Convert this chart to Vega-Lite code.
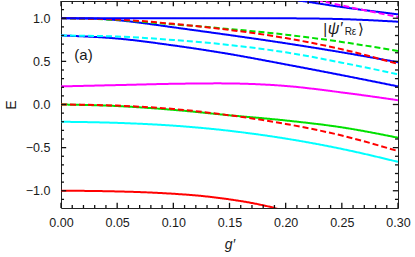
{
  "$schema": "https://vega.github.io/schema/vega-lite/v6.json",
  "width": 337,
  "height": 207,
  "autosize": {"type": "none"},
  "padding": {"left": 61, "top": 1, "right": 17, "bottom": 49},
  "background": "white",
  "config": {
    "view": {"stroke": "#222222", "strokeWidth": 1},
    "font": "Liberation Sans",
    "axis": {"grid": false, "domain": false, "ticks": false, "tickSize": 0, "labelFlush": false, "labelOverlap": false, "labelColor": "#1a1a1a", "titleColor": "#1a1a1a", "labelFont": "Liberation Sans", "titleFont": "Liberation Sans", "labelFontSize": 12.5, "titleFontSize": 14, "titleFontWeight": "normal"}
  },
  "datasets": {
    "curves": [
      {"s": "redS", "g": 0, "E": -1.0}, {"s": "redS", "g": 0.025, "E": -1.002}, {"s": "redS", "g": 0.05, "E": -1.008}, {"s": "redS", "g": 0.075, "E": -1.018}, {"s": "redS", "g": 0.1, "E": -1.035}, {"s": "redS", "g": 0.125, "E": -1.06}, {"s": "redS", "g": 0.15, "E": -1.1}, {"s": "redS", "g": 0.175, "E": -1.155}, {"s": "redS", "g": 0.19, "E": -1.2}, {"s": "redS", "g": 0.2, "E": -1.24},
      {"s": "cyanS", "g": 0, "E": -0.2}, {"s": "cyanS", "g": 0.05, "E": -0.213}, {"s": "cyanS", "g": 0.1, "E": -0.245}, {"s": "cyanS", "g": 0.15, "E": -0.305}, {"s": "cyanS", "g": 0.2, "E": -0.395}, {"s": "cyanS", "g": 0.25, "E": -0.515}, {"s": "cyanS", "g": 0.3, "E": -0.665},
      {"s": "greenS", "g": 0, "E": 0}, {"s": "greenS", "g": 0.05, "E": -0.018}, {"s": "greenS", "g": 0.1, "E": -0.062}, {"s": "greenS", "g": 0.15, "E": -0.125}, {"s": "greenS", "g": 0.2, "E": -0.185}, {"s": "greenS", "g": 0.25, "E": -0.265}, {"s": "greenS", "g": 0.3, "E": -0.385},
      {"s": "redD0", "g": 0, "E": 0}, {"s": "redD0", "g": 0.05, "E": -0.013}, {"s": "redD0", "g": 0.1, "E": -0.052}, {"s": "redD0", "g": 0.15, "E": -0.125}, {"s": "redD0", "g": 0.2, "E": -0.225}, {"s": "redD0", "g": 0.25, "E": -0.36}, {"s": "redD0", "g": 0.3, "E": -0.54},
      {"s": "magS", "g": 0, "E": 0.21}, {"s": "magS", "g": 0.05, "E": 0.225}, {"s": "magS", "g": 0.1, "E": 0.24}, {"s": "magS", "g": 0.14, "E": 0.245}, {"s": "magS", "g": 0.18, "E": 0.232}, {"s": "magS", "g": 0.2, "E": 0.215}, {"s": "magS", "g": 0.25, "E": 0.14}, {"s": "magS", "g": 0.3, "E": 0.05},
      {"s": "blueL", "g": 0, "E": 0.8}, {"s": "blueL", "g": 0.05, "E": 0.765}, {"s": "blueL", "g": 0.1, "E": 0.685}, {"s": "blueL", "g": 0.15, "E": 0.585}, {"s": "blueL", "g": 0.2, "E": 0.465}, {"s": "blueL", "g": 0.25, "E": 0.34}, {"s": "blueL", "g": 0.3, "E": 0.21},
      {"s": "cyanD", "g": 0, "E": 0.8}, {"s": "cyanD", "g": 0.05, "E": 0.788}, {"s": "cyanD", "g": 0.1, "E": 0.748}, {"s": "cyanD", "g": 0.15, "E": 0.69}, {"s": "cyanD", "g": 0.2, "E": 0.605}, {"s": "cyanD", "g": 0.25, "E": 0.485}, {"s": "cyanD", "g": 0.3, "E": 0.35},
      {"s": "blueU", "g": 0, "E": 1.0}, {"s": "blueU", "g": 0.03, "E": 0.995}, {"s": "blueU", "g": 0.05, "E": 0.978}, {"s": "blueU", "g": 0.075, "E": 0.94}, {"s": "blueU", "g": 0.1, "E": 0.895}, {"s": "blueU", "g": 0.15, "E": 0.805}, {"s": "blueU", "g": 0.2, "E": 0.71}, {"s": "blueU", "g": 0.25, "E": 0.605}, {"s": "blueU", "g": 0.3, "E": 0.49},
      {"s": "greenD", "g": 0, "E": 1.0}, {"s": "greenD", "g": 0.05, "E": 0.98}, {"s": "greenD", "g": 0.1, "E": 0.93}, {"s": "greenD", "g": 0.15, "E": 0.875}, {"s": "greenD", "g": 0.2, "E": 0.81}, {"s": "greenD", "g": 0.25, "E": 0.725}, {"s": "greenD", "g": 0.3, "E": 0.62},
      {"s": "redD1", "g": 0, "E": 1.0}, {"s": "redD1", "g": 0.05, "E": 0.985}, {"s": "redD1", "g": 0.1, "E": 0.935}, {"s": "redD1", "g": 0.15, "E": 0.865}, {"s": "redD1", "g": 0.2, "E": 0.77}, {"s": "redD1", "g": 0.25, "E": 0.64}, {"s": "redD1", "g": 0.3, "E": 0.47},
      {"s": "blueF", "g": 0, "E": 1.0}, {"s": "blueF", "g": 0.1, "E": 1.0}, {"s": "blueF", "g": 0.2, "E": 0.999}, {"s": "blueF", "g": 0.25, "E": 0.99}, {"s": "blueF", "g": 0.3, "E": 0.96},
      {"s": "blueT", "g": 0.2, "E": 1.23}, {"s": "blueT", "g": 0.215, "E": 1.2}, {"s": "blueT", "g": 0.25, "E": 1.13}, {"s": "blueT", "g": 0.3, "E": 1.045},
      {"s": "magD", "g": 0.22, "E": 1.23}, {"s": "magD", "g": 0.235, "E": 1.19}, {"s": "magD", "g": 0.26, "E": 1.12}, {"s": "magD", "g": 0.3, "E": 1.015}
    ],
    "labels": [
      {"t": "(a)", "g": 0.02, "E": 0.575},
      {"t": "|", "g": 0.2335, "E": 0.874},
      {"t": "ψ′", "g": 0.2375, "E": 0.874},
      {"t": "Rε", "g": 0.2525, "E": 0.835},
      {"t": "⟩", "g": 0.2645, "E": 0.874}
    ],
    "xmaj": [{"v": 0}, {"v": 0.05}, {"v": 0.1}, {"v": 0.15}, {"v": 0.2}, {"v": 0.25}, {"v": 0.3}],
    "xmin": [{"v": 0.01}, {"v": 0.02}, {"v": 0.03}, {"v": 0.04}, {"v": 0.06}, {"v": 0.07}, {"v": 0.08}, {"v": 0.09}, {"v": 0.11}, {"v": 0.12}, {"v": 0.13}, {"v": 0.14}, {"v": 0.16}, {"v": 0.17}, {"v": 0.18}, {"v": 0.19}, {"v": 0.21}, {"v": 0.22}, {"v": 0.23}, {"v": 0.24}, {"v": 0.26}, {"v": 0.27}, {"v": 0.28}, {"v": 0.29}],
    "ymaj": [{"v": -1}, {"v": -0.5}, {"v": 0}, {"v": 0.5}, {"v": 1}],
    "ymin": [{"v": -1.1}, {"v": -0.9}, {"v": -0.8}, {"v": -0.7}, {"v": -0.6}, {"v": -0.4}, {"v": -0.3}, {"v": -0.2}, {"v": -0.1}, {"v": 0.1}, {"v": 0.2}, {"v": 0.3}, {"v": 0.4}, {"v": 0.6}, {"v": 0.7}, {"v": 0.8}, {"v": 0.9}, {"v": 1.1}]
  },
  "layer": [
    {
      "data": {"name": "curves"},
      "mark": {"type": "line", "clip": true, "strokeWidth": 2, "interpolate": "monotone"},
      "encoding": {
        "x": {"field": "g", "type": "quantitative", "scale": {"domain": [0, 0.3], "nice": false, "zero": false},
              "axis": {"orient": "bottom", "values": [0, 0.05, 0.1, 0.15, 0.2, 0.25, 0.3], "format": ".2f", "labelPadding": 8, "title": "g′", "titleFontStyle": "italic", "titlePadding": 9}},
        "y": {"field": "E", "type": "quantitative", "scale": {"domain": [-1.2, 1.2], "nice": false, "zero": false},
              "axis": {"orient": "left", "values": [-1, -0.5, 0, 0.5, 1], "format": ".1f", "labelPadding": 11, "title": "E", "titlePadding": 7}},
        "color": {"field": "s", "type": "nominal", "legend": null,
                  "scale": {"domain": ["redS", "cyanS", "greenS", "redD0", "magS", "blueL", "cyanD", "blueU", "greenD", "redD1", "blueF", "blueT", "magD"],
                            "range": ["#ff0000", "#00ffff", "#00e000", "#ff0000", "#ff00ff", "#0000ff", "#00ffff", "#0000ff", "#00e000", "#ff0000", "#0000ff", "#0000ff", "#ff00ff"]}},
        "strokeDash": {"field": "s", "type": "nominal", "legend": null,
                  "scale": {"domain": ["redS", "cyanS", "greenS", "redD0", "magS", "blueL", "cyanD", "blueU", "greenD", "redD1", "blueF", "blueT", "magD"],
                            "range": [[1, 0], [1, 0], [1, 0], [6, 3], [1, 0], [1, 0], [6, 3], [1, 0], [6, 3], [6, 3], [1, 0], [1, 0], [6, 3]]}}
      }
    },
    {"data": {"name": "xmaj"}, "mark": {"type": "rule", "color": "#111111", "strokeWidth": 1.3},
     "encoding": {"x": {"field": "v", "type": "quantitative"}, "y": {"datum": -1.2, "type": "quantitative"}, "y2": {"datum": -1.14}}},
    {"data": {"name": "xmaj"}, "mark": {"type": "rule", "color": "#111111", "strokeWidth": 1.3},
     "encoding": {"x": {"field": "v", "type": "quantitative"}, "y": {"datum": 1.2, "type": "quantitative"}, "y2": {"datum": 1.14}}},
    {"data": {"name": "xmin"}, "mark": {"type": "rule", "color": "#111111", "strokeWidth": 1.3},
     "encoding": {"x": {"field": "v", "type": "quantitative"}, "y": {"datum": -1.2, "type": "quantitative"}, "y2": {"datum": -1.165}}},
    {"data": {"name": "xmin"}, "mark": {"type": "rule", "color": "#111111", "strokeWidth": 1.3},
     "encoding": {"x": {"field": "v", "type": "quantitative"}, "y": {"datum": 1.2, "type": "quantitative"}, "y2": {"datum": 1.165}}},
    {"data": {"name": "ymaj"}, "mark": {"type": "rule", "color": "#111111", "strokeWidth": 1.3},
     "encoding": {"y": {"field": "v", "type": "quantitative"}, "x": {"datum": 0, "type": "quantitative"}, "x2": {"datum": 0.0046}}},
    {"data": {"name": "ymaj"}, "mark": {"type": "rule", "color": "#111111", "strokeWidth": 1.3},
     "encoding": {"y": {"field": "v", "type": "quantitative"}, "x": {"datum": 0.3, "type": "quantitative"}, "x2": {"datum": 0.2954}}},
    {"data": {"name": "ymin"}, "mark": {"type": "rule", "color": "#111111", "strokeWidth": 1.3},
     "encoding": {"y": {"field": "v", "type": "quantitative"}, "x": {"datum": 0, "type": "quantitative"}, "x2": {"datum": 0.0027}}},
    {"data": {"name": "ymin"}, "mark": {"type": "rule", "color": "#111111", "strokeWidth": 1.3},
     "encoding": {"y": {"field": "v", "type": "quantitative"}, "x": {"datum": 0.3, "type": "quantitative"}, "x2": {"datum": 0.2973}}},
    {
      "data": {"name": "labels"},
      "transform": [{"filter": "datum.t == '(a)'"}],
      "mark": {"type": "text", "fontSize": 15, "align": "center", "baseline": "middle", "color": "#1a1a1a"},
      "encoding": {"x": {"field": "g", "type": "quantitative"}, "y": {"field": "E", "type": "quantitative"}, "text": {"field": "t"}}
    },
    {
      "data": {"name": "labels"},
      "transform": [{"filter": "datum.t == '|'"}],
      "mark": {"type": "text", "fontSize": 15, "align": "left", "baseline": "middle", "color": "#1a1a1a"},
      "encoding": {"x": {"field": "g", "type": "quantitative"}, "y": {"field": "E", "type": "quantitative"}, "text": {"field": "t"}}
    },
    {
      "data": {"name": "labels"},
      "transform": [{"filter": "datum.t == 'ψ′'"}],
      "mark": {"type": "text", "fontSize": 16, "fontStyle": "italic", "align": "left", "baseline": "middle", "color": "#1a1a1a"},
      "encoding": {"x": {"field": "g", "type": "quantitative"}, "y": {"field": "E", "type": "quantitative"}, "text": {"field": "t"}}
    },
    {
      "data": {"name": "labels"},
      "transform": [{"filter": "datum.t == 'Rε'"}],
      "mark": {"type": "text", "fontSize": 10, "align": "left", "baseline": "middle", "color": "#1a1a1a"},
      "encoding": {"x": {"field": "g", "type": "quantitative"}, "y": {"field": "E", "type": "quantitative"}, "text": {"field": "t"}}
    },
    {
      "data": {"name": "labels"},
      "transform": [{"filter": "datum.t == '⟩'"}],
      "mark": {"type": "text", "fontSize": 15, "align": "left", "baseline": "middle", "color": "#1a1a1a", "font": "DejaVu Sans"},
      "encoding": {"x": {"field": "g", "type": "quantitative"}, "y": {"field": "E", "type": "quantitative"}, "text": {"field": "t"}}
    }
  ]
}
